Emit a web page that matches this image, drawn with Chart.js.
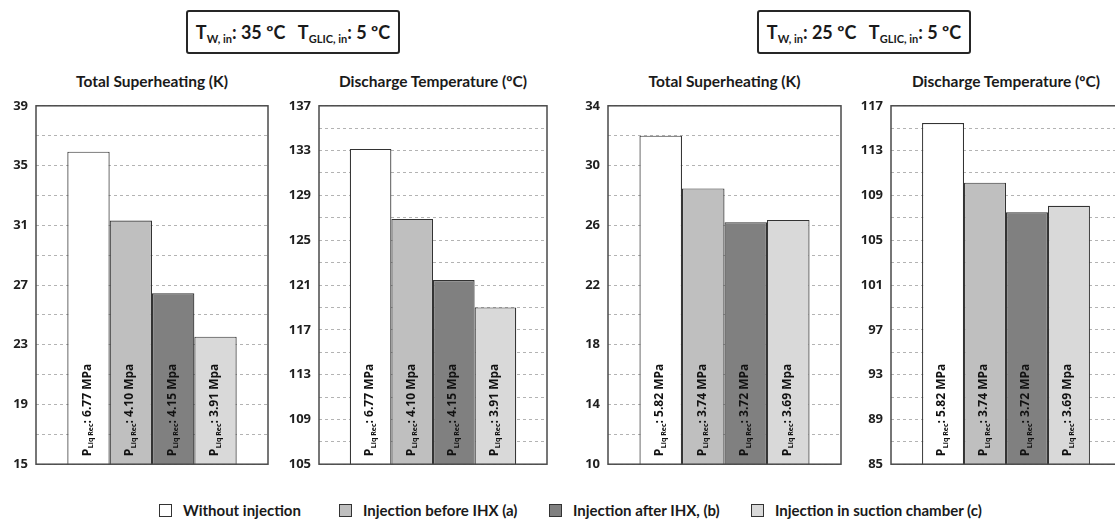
<!DOCTYPE html>
<html>
<head>
<meta charset="utf-8">
<script src="https://cdn.jsdelivr.net/npm/chart.js@4.4.1/dist/chart.umd.min.js"></script>
<style>
  html, body { margin: 0; padding: 0; background: #fff; overflow: hidden; }
  body { width: 1115px; height: 520px; position: relative; font-family: Lato, sans-serif; color: #1a1a1a; }
  canvas { position: absolute; top: 90px; }
  .hdr { position: absolute; top: 10px; height: 40px; border: 2px solid #262626; border-radius: 3px;
         font-weight: bold; font-size: 18px; line-height: 40px; text-align: center; white-space: pre; }
  .hdr sub { font-size: 11px; vertical-align: -4px; }
  .ttl { position: absolute; top: 72px; font-weight: bold; font-size: 15.5px; text-align: center; white-space: nowrap; }
  .leg { position: absolute; top: 501px; font-weight: bold; font-size: 15px; line-height: 18px; white-space: nowrap; }
  .leg i { position: absolute; left: -24px; top: 3px; width: 11px; height: 11px; border: 1.5px solid #333; }
</style>
</head>
<body>
<div class="hdr" style="left:186px;width:210px">T<sub>W, in</sub>: 35 ºC   T<sub>GLIC, in</sub>: 5 ºC</div>
<div class="hdr" style="left:757px;width:210px">T<sub>W, in</sub>: 25 ºC   T<sub>GLIC, in</sub>: 5 ºC</div>

<canvas id="c1"></canvas>
<canvas id="c2"></canvas>
<canvas id="c3"></canvas>
<canvas id="c4"></canvas>

<div id="legend"></div>

<script>
// series (one bar per injection mode)
const modes = ['Without injection', 'Injection before IHX (a)', 'Injection after IHX, (b)', 'Injection in suction chamber (c)'];
const modeColors = ['#ffffff', '#bfbfbf', '#808080', '#d9d9d9'];

const superheat35 = [35.93, 31.32, 26.44, 23.54];
const discharge35 = [133.15, 126.9, 121.45, 119.0];
const superheat25 = [32.0, 28.47, 26.21, 26.36];
const discharge25 = [115.46, 110.14, 107.5, 108.08];

const pressure35 = ['6.77 MPa', '4.10 Mpa', '4.15 Mpa', '3.91 Mpa'];
const pressure25 = ['5.82 MPa', '3.74 MPa', '3.72 MPa', '3.69 Mpa'];

const panelTitles = ['Total Superheating (K)', 'Discharge Temperature (ºC)', 'Total Superheating (K)', 'Discharge Temperature (ºC)'];
const yMins = [15, 105, 10, 85];
const yMaxs = [39, 137, 34, 117];

Chart.defaults.font.family = '"Open Sans"';

// rotated "P_Liq Rec: x MPa" label at the foot of a bar
function drawPLabel(ctx, x, y, txt) {
    ctx.save();
    ctx.translate(x - 1, y);
    ctx.rotate(-Math.PI / 2);
    ctx.fillStyle = '#111';
    ctx.textBaseline = 'middle';
    ctx.textAlign = 'left';
    ctx.font = 'bold 12px "Open Sans"';
    ctx.fillText('P', 0, 0);
    let w = ctx.measureText('P').width + 0.5;
    ctx.font = 'bold 7px "Open Sans"';
    ctx.fillText('Liq Rec', w, 4);
    w += ctx.measureText('Liq Rec').width;
    ctx.font = 'bold 12px "Open Sans"';
    ctx.fillText(': ' + txt, w, 0);
    ctx.restore();
}

// bar labels + plot frame, one plugin per panel
function mkDecor(labels) {
    return {
        id: 'barDecor',
        afterDatasetsDraw(chart) {
            const ctx = chart.ctx;
            const a = chart.chartArea;
            chart.data.datasets.forEach((ds, i) => {
                const bar = chart.getDatasetMeta(i).data[0];
                drawPLabel(ctx, bar.x, a.bottom - 8, labels[i]);
            });
            ctx.save();
            ctx.strokeStyle = '#4a4a4a';
            ctx.lineWidth = 1.5;
            ctx.strokeRect(a.left, a.top, a.right - a.left, a.bottom - a.top);
            ctx.restore();
        }
    };
}

function mkPanel(id, plotLeft, plotWidth, values, labels, yMin, yMax) {
    const cv = document.getElementById(id);
    cv.width = plotWidth + 44;
    cv.height = 390;
    cv.style.left = (plotLeft - 40) + 'px';
    return new Chart(cv, {
        type: 'bar',
        data: {
            labels: [''],
            datasets: modes.map((m, i) => ({
                label: m,
                data: [values[i]],
                backgroundColor: modeColors[i],
                borderColor: '#333',
                borderWidth: 1.2,
                borderSkipped: false,
                barPercentage: 1,
                categoryPercentage: 0.73
            }))
        },
        options: {
            responsive: false,
            animation: false,
            layout: { padding: { top: 10, bottom: 11, right: 4 } },
            plugins: {
                legend: { display: false },
                tooltip: { enabled: false }
            },
            scales: {
                x: { display: false },
                y: {
                    min: yMin,
                    max: yMax,
                    afterFit(s) { s.width = 40; },
                    border: { display: false, dash: [3, 3] },
                    grid: { color: '#b3b3b3', lineWidth: 1, drawTicks: false },
                    ticks: {
                        stepSize: 2,
                        padding: 8,
                        color: '#1f1f1f',
                        font: { size: 13, weight: 'bold' },
                        callback: v => ((v - yMin) % 4 === 0 ? v : '')
                    }
                }
            }
        },
        plugins: [mkDecor(labels)]
    });
}

const plotLefts = [36, 319, 608, 891];
const plotWidths = [232, 228, 233, 230];
const panelValues = [superheat35, discharge35, superheat25, discharge25];
const panelLabels = [pressure35, pressure35, pressure25, pressure25];

panelValues.forEach((vals, i) => {
    mkPanel('c' + (i + 1), plotLefts[i], plotWidths[i], vals, panelLabels[i], yMins[i], yMaxs[i]);
    const t = document.createElement('div');
    t.className = 'ttl';
    t.textContent = panelTitles[i];
    t.style.left = plotLefts[i] + 'px';
    t.style.width = plotWidths[i] + 'px';
    document.body.appendChild(t);
});

// shared legend
const legendX = [183, 363, 573, 775];
modes.forEach((m, i) => {
    const d = document.createElement('div');
    d.className = 'leg';
    d.style.left = legendX[i] + 'px';
    d.innerHTML = '<i style="background:' + modeColors[i] + '"></i>' + m;
    document.getElementById('legend').appendChild(d);
});
</script>
</body>
</html>
